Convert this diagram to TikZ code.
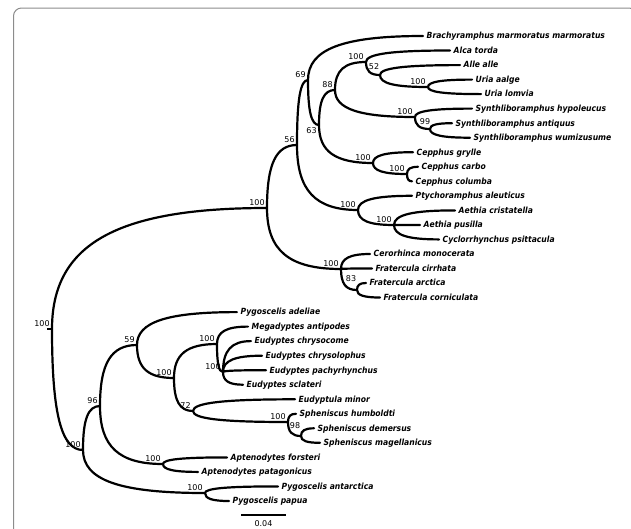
\documentclass[tikz,border=0pt]{standalone}
\usepackage{fontspec}
\setsansfont{DejaVu Sans}
\newfontfamily\taxfont[FakeStretch=0.9]{DejaVu Sans}
\usetikzlibrary{calc}

\tikzset{
  br/.style={line width=2.2pt,line cap=round,
    to path={.. controls ($(\tikztostart)!0.7!(\tikztostart|-\tikztotarget)$)
      and ($(\tikztotarget)!0.7!(\tikztostart|-\tikztotarget)$) .. (\tikztotarget)}},
  taxon/.style={anchor=west,inner xsep=3.5pt,inner ysep=0pt,text height=6pt,text depth=0.4pt,
    font=\taxfont\fontsize{8.5}{10}\selectfont\bfseries\itshape},
  boot/.style={inner sep=2.2pt,font=\sffamily\fontsize{8}{9}\selectfont},
}

\begin{document}
\begin{tikzpicture}[x=1pt,y=-1pt]
  \useasboundingbox (0,0) rectangle (631,528);
  \begin{scope}
    \clip (0,0) rectangle (631,528);
    \draw[black!45,line width=1pt,rounded corners=8pt] (13.5,8) rectangle (637,545);
  \end{scope}

  \coordinate[label={[boot]above left:100}] (cRoot) at (52,329);
  \coordinate (cStub) at (47,329);
  \coordinate[label={[boot]above left:100}] (cAuk) at (267,208);
  \coordinate[label={[boot]above left:56}] (c56) at (297,145);
  \coordinate[label={[boot]above left:69}] (c69) at (308,80);
  \coordinate[label={[boot]below left:63}] (c63) at (319,125);
  \coordinate[label={[boot]above left:88}] (c88) at (335,90);
  \coordinate[label={[boot]above left:100}] (cAlca) at (366,62);
  \coordinate (c52) at (380,75);
  \coordinate[label={[boot]above left:100}] (cUria) at (428,87);
  \coordinate[label={[boot]above left:100}] (cSynth) at (415,117);
  \coordinate (c99) at (430,129);
  \coordinate[label={[boot]above left:100}] (cCeph) at (373,163);
  \coordinate[label={[boot]above left:100}] (cCephB) at (407,174);
  \coordinate[label={[boot]above left:100}] (cPtych) at (358,210);
  \coordinate[label={[boot]above left:100}] (cAethia) at (394,225);
  \coordinate[label={[boot]above left:100}] (cPuff) at (341,269);
  \coordinate (c83) at (357,290);
  \coordinate[label={[boot]above left:100}] (cPeng) at (83,450);
  \coordinate[label={[boot]above left:96}] (c96) at (100,406);
  \coordinate[label={[boot]above left:59}] (c59) at (137,345);
  \coordinate[label={[boot]above left:100}] (cEuSph) at (174,378);
  \coordinate[label={[boot]above left:100}] (cMega) at (217,344);
  \coordinate[label={[boot]above left:100}] (cEud) at (223,372);
  \coordinate[label={[boot]above left:72}] (c72) at (193,411);
  \coordinate[label={[boot]above left:100}] (cSphen) at (288,422);
  \coordinate (c98) at (301,436);
  \coordinate[label={[boot]above left:100}] (cApt) at (163,464);
  \coordinate[label={[boot]above left:100}] (cPyg) at (205,493);

  \node[boot] (b52) at (374,67) {52};
  \node[boot] (b99) at (425,122) {99};
  \node[boot] (b83) at (351,279) {83};
  \node[boot] (b98) at (295,426) {98};

  \node[taxon] (brach) at (423,36) {Brachyramphus marmoratus marmoratus};
  \node[taxon] (torda) at (450,50.5) {Alca torda};
  \node[taxon] (alle) at (460,65.1) {Alle alle};
  \node[taxon] (aalge) at (472,79.6) {Uria aalge};
  \node[taxon] (lomvia) at (481,94.1) {Uria lomvia};
  \node[taxon] (hypol) at (472,108.6) {Synthliboramphus hypoleucus};
  \node[taxon] (antiq) at (452,123.2) {Synthliboramphus antiquus};
  \node[taxon] (wumiz) at (470,137.7) {Synthliboramphus wumizusume};
  \node[taxon] (grylle) at (413,152.2) {Cepphus grylle};
  \node[taxon] (carbo) at (418,166.8) {Cepphus carbo};
  \node[taxon] (columba) at (412,181.3) {Cepphus columba};
  \node[taxon] (aleut) at (412,195.8) {Ptychoramphus aleuticus};
  \node[taxon] (crist) at (455,210.4) {Aethia cristatella};
  \node[taxon] (pusilla) at (420,224.9) {Aethia pusilla};
  \node[taxon] (psitt) at (439,239.4) {Cyclorrhynchus psittacula};
  \node[taxon] (monoc) at (370,254) {Cerorhinca monocerata};
  \node[taxon] (cirrh) at (372,268.5) {Fratercula cirrhata};
  \node[taxon] (arct) at (366,283) {Fratercula arctica};
  \node[taxon] (cornic) at (380,297.5) {Fratercula corniculata};
  \node[taxon] (adel) at (237,312.1) {Pygoscelis adeliae};
  \node[taxon] (antip) at (248,326.6) {Megadyptes antipodes};
  \node[taxon] (chryco) at (251,341.1) {Eudyptes chrysocome};
  \node[taxon] (chrylo) at (262,355.7) {Eudyptes chrysolophus};
  \node[taxon] (pachy) at (266,370.2) {Eudyptes pachyrhynchus};
  \node[taxon] (sclat) at (243,384.7) {Eudyptes sclateri};
  \node[taxon] (minor) at (295,399.3) {Eudyptula minor};
  \node[taxon] (humb) at (296,413.8) {Spheniscus humboldti};
  \node[taxon] (demer) at (314,428.3) {Spheniscus demersus};
  \node[taxon] (magel) at (320,442.8) {Spheniscus magellanicus};
  \node[taxon] (forst) at (227,457.4) {Aptenodytes forsteri};
  \node[taxon] (patag) at (198,471.9) {Aptenodytes patagonicus};
  \node[taxon] (antarc) at (278,486.4) {Pygoscelis antarctica};
  \node[taxon] (papua) at (229,501) {Pygoscelis papua};

  \draw[line width=2.2pt] (cStub) -- (cRoot);
  \draw[br] (cRoot) to (cAuk) (cRoot) to (cPeng)
    (cAuk) to (c56) (cAuk) to (cPuff)
    (c56) to (c69) (c56) to (cPtych)
    (c69) to (brach.west) (c69) to (c63)
    (c63) to (c88) (c63) to (cCeph)
    (c88) to (cAlca) (c88) to (cSynth)
    (cAlca) to (torda.west) (cAlca) to (c52)
    (c52) to (alle.west) (c52) to (cUria)
    (cUria) to (aalge.west) (cUria) to (lomvia.west)
    (cSynth) to (hypol.west) (cSynth) to (c99)
    (c99) to (antiq.west) (c99) to (wumiz.west)
    (cCeph) to (grylle.west) (cCeph) to (cCephB)
    (cCephB) to (carbo.west) (cCephB) to (columba.west)
    (cPtych) to (aleut.west) (cPtych) to (cAethia)
    (cAethia) to (crist.west) (cAethia) to (pusilla.west) (cAethia) to (psitt.west)
    (cPuff) to (monoc.west) (cPuff) to (cirrh.west) (cPuff) to (c83)
    (c83) to (arct.west) (c83) to (cornic.west)
    (cPeng) to (c96) (cPeng) to (cPyg)
    (c96) to (c59) (c96) to (cApt)
    (c59) to (adel.west) (c59) to (cEuSph)
    (cEuSph) to (cMega) (cEuSph) to (c72)
    (cMega) to (antip.west) (cMega) to (cEud)
    (cEud) to (chryco.west) (cEud) to (chrylo.west) (cEud) to (pachy.west) (cEud) to (sclat.west)
    (c72) to (minor.west) (c72) to (cSphen)
    (cSphen) to (humb.west) (cSphen) to (c98)
    (c98) to (demer.west) (c98) to (magel.west)
    (cApt) to (forst.west) (cApt) to (patag.west)
    (cPyg) to (antarc.west) (cPyg) to (papua.west);

  \coordinate (cBarL) at (241,515);
  \coordinate (cBarR) at (286,515);
  \draw[line width=2.2pt] (cBarL) -- (cBarR);
  \node[boot] (scale) at (263.5,524) {0.04};
\end{tikzpicture}
\end{document}
